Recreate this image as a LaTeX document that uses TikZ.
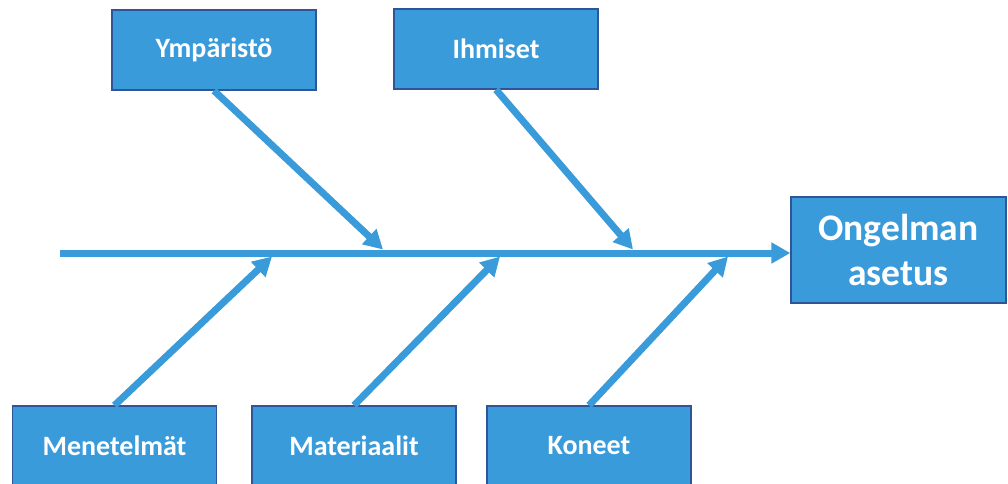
\documentclass[tikz,border=0pt]{standalone}
\usepackage{fontspec}
\setmainfont{Carlito}
\usepackage{xcolor}
\usetikzlibrary{arrows.meta}
\definecolor{boxblue}{RGB}{58,155,218}
\definecolor{boxedge}{RGB}{47,85,151}
\tikzset{>={Triangle[width=20pt,length=19pt]}}
\tikzset{
  causebox/.style={shape=rectangle,fill=boxblue,draw=boxedge,line width=1.3pt,minimum height=80pt,minimum width=204pt,text=white,font=\fontsize{28}{32}\selectfont\bfseries},
  effectbox/.style={shape=rectangle,fill=boxblue,draw=boxedge,line width=1.3pt,minimum height=106pt,minimum width=215pt,text=white,align=center,font=\fontsize{37.5}{45}\selectfont\bfseries},
  bone/.style={draw=boxblue,line width=7pt,->}
}

\begin{document}
\begin{tikzpicture}[x=1pt,y=-1pt]
\useasboundingbox (0,0) rectangle (1008,483);

\path (214,50) node [causebox] (ymparisto) {Ympäristö};

\path (496,49) node [causebox] (ihmiset) {Ihmiset};

\path (898.5,250) node [effectbox] (ongelma) {Ongelman\\asetus};

\path (114.5,446) node [causebox] (menetelmat) {Menetelmät};

\path (354,446) node [causebox] (materiaalit) {Materiaalit};

\path (589,446) node [causebox] (koneet) {Koneet};

% selkaranka
\coordinate (tail) at (60,253);
\draw [bone] (tail) -- (ongelma.west |- tail);

% haarat
\coordinate (yhaara) at (383,249.5);
\coordinate (ihaara) at (633,249.5);
\coordinate (mehaara) at (272,256.5);
\coordinate (mahaara) at (500,256.5);
\coordinate (khaara) at (728,256.5);

\draw [bone] (ymparisto.south) -- (yhaara);
\draw [bone] (ihmiset.south) -- (ihaara);
\draw [bone] (menetelmat.north) -- (mehaara);
\draw [bone] (materiaalit.north) -- (mahaara);
\draw [bone] (koneet.north) -- (khaara);

\end{tikzpicture}
\end{document}
